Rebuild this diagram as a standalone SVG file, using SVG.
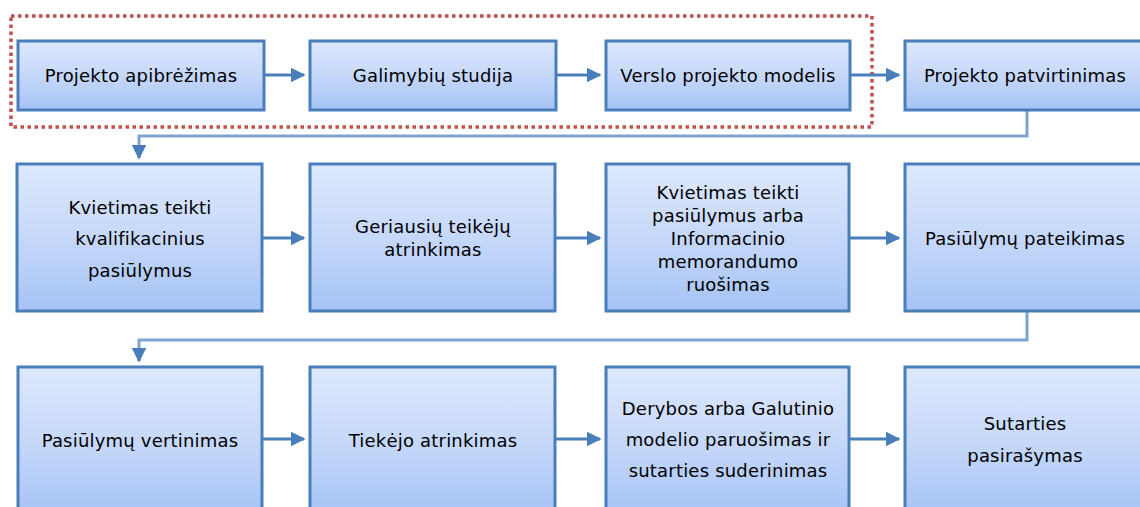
<svg xmlns="http://www.w3.org/2000/svg" width="1140" height="507" viewBox="0 0 1140 507">
<style>
.box{fill:url(#g);stroke:#4A7EBB;stroke-width:3}
.t{font-family:"DejaVu Sans",Verdana,sans-serif;font-size:18px;letter-spacing:0.2px;fill:#000;text-anchor:middle;dominant-baseline:central}
.ln{fill:none;stroke:#4A7EBB;stroke-width:3}
.el{fill:none;stroke:#7FA3D0;stroke-width:3}
</style>
<defs>
<linearGradient id="g" x1="0" y1="0" x2="0" y2="1">
<stop offset="0" stop-color="#DDE8FC"/>
<stop offset="0.5" stop-color="#C6D8FA"/>
<stop offset="1" stop-color="#A5C3F5"/>
</linearGradient>
<marker id="a" viewBox="0 0 10 10" refX="9" refY="5" markerWidth="5" markerHeight="5" markerUnits="strokeWidth" orient="auto">
<path d="M0,0 L10,5 L0,10 Z" fill="#4A7EBB"/>
</marker>
</defs>
<rect x="11" y="16" width="861" height="111" fill="none" stroke="#C0504D" stroke-width="3.5" stroke-dasharray="3.5 3.5"/>
<g id="connectors">
<path class="ln" d="M264,75 H304" marker-end="url(#a)"/>
<path class="ln" d="M556,75 H600" marker-end="url(#a)"/>
<path class="ln" d="M850,75 H899" marker-end="url(#a)"/>
<path class="el" d="M1027,111 V136 H139 V156" />
<path class="ln" d="M139,145 V158" marker-end="url(#a)"/>
<path class="ln" d="M262,238 H304" marker-end="url(#a)"/>
<path class="ln" d="M555,238 H600" marker-end="url(#a)"/>
<path class="ln" d="M849,238 H899" marker-end="url(#a)"/>
<path class="el" d="M1027,312 V340 H139 V355" />
<path class="ln" d="M139,348 V361" marker-end="url(#a)"/>
<path class="ln" d="M262,439 H304" marker-end="url(#a)"/>
<path class="ln" d="M555,439 H600" marker-end="url(#a)"/>
<path class="ln" d="M849,439 H899" marker-end="url(#a)"/>
</g>
<g id="n1"><rect class="box" x="18" y="41" width="246" height="69"/><text class="t" x="141" y="75">Projekto apibrėžimas</text></g>
<g id="n2"><rect class="box" x="310" y="41" width="246" height="69"/><text class="t" x="433" y="75">Galimybių studija</text></g>
<g id="n3"><rect class="box" x="606" y="41" width="244" height="69"/><text class="t" x="728" y="75">Verslo projekto modelis</text></g>
<g id="n4"><rect class="box" x="905" y="41" width="242" height="69"/><text class="t" x="1025" y="75">Projekto patvirtinimas</text></g>
<g id="n5"><rect class="box" x="17" y="164" width="245" height="147"/><text class="t" x="140" y="207">Kvietimas teikti</text><text class="t" x="140" y="238">kvalifikacinius</text><text class="t" x="140" y="270">pasiūlymus</text></g>
<g id="n6"><rect class="box" x="310" y="164" width="245" height="147"/><text class="t" x="433" y="226">Geriausių teikėjų</text><text class="t" x="433" y="249">atrinkimas</text></g>
<g id="n7"><rect class="box" x="606" y="164" width="243" height="147"/><text class="t" x="728" y="192">Kvietimas teikti</text><text class="t" x="728" y="215">pasiūlymus arba</text><text class="t" x="728" y="238">Informacinio</text><text class="t" x="728" y="261">memorandumo</text><text class="t" x="728" y="284">ruošimas</text></g>
<g id="n8"><rect class="box" x="905" y="164" width="242" height="147"/><text class="t" x="1025" y="238">Pasiūlymų pateikimas</text></g>
<g id="n9"><rect class="box" x="18" y="367" width="244" height="150"/><text class="t" x="140" y="440">Pasiūlymų vertinimas</text></g>
<g id="n10"><rect class="box" x="310" y="367" width="245" height="150"/><text class="t" x="433" y="440">Tiekėjo atrinkimas</text></g>
<g id="n11"><rect class="box" x="606" y="367" width="243" height="150"/><text class="t" x="728" y="408">Derybos arba Galutinio</text><text class="t" x="728" y="439">modelio paruošimas ir</text><text class="t" x="728" y="470">sutarties suderinimas</text></g>
<g id="n12"><rect class="box" x="905" y="367" width="242" height="150"/><text class="t" x="1025" y="423">Sutarties</text><text class="t" x="1025" y="455">pasirašymas</text></g>
</svg>
